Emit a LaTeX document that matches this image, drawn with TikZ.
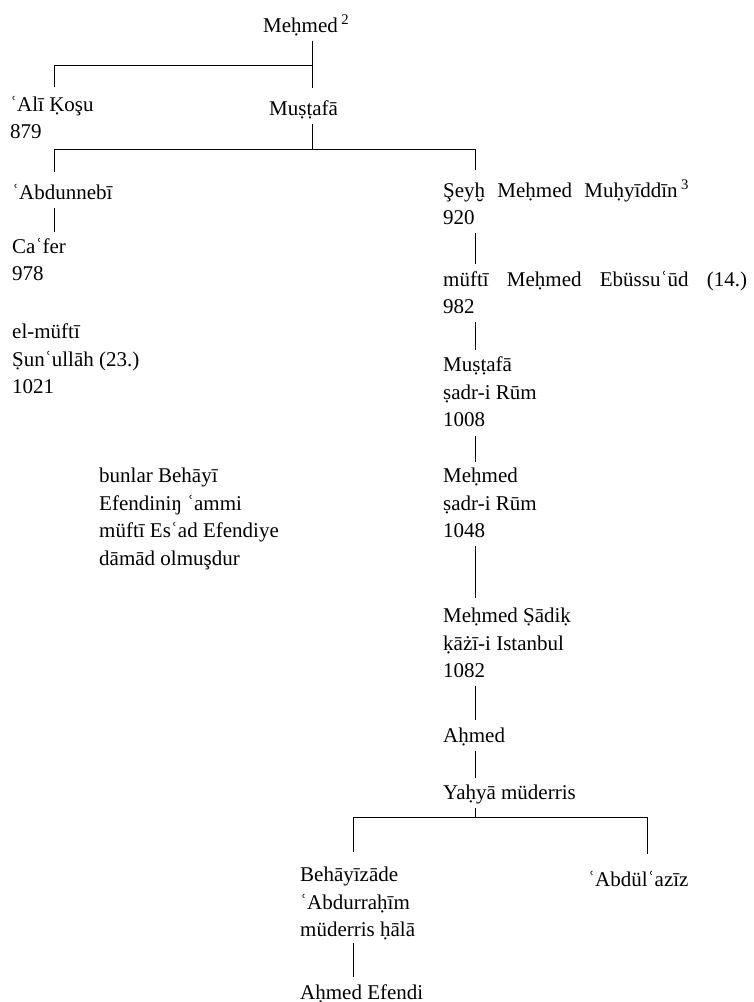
\documentclass[tikz,border=0pt]{standalone}
\usepackage{fontspec}
\setmainfont{Liberation Serif}
\begin{document}
\begin{tikzpicture}[x=1pt,y=-1pt,
  person/.style={anchor=north west, inner sep=0pt, align=left, yshift=12.4pt,
    font=\fontsize{21}{27.7}\selectfont,
    execute at begin node=\strut, execute at end node=\strut},
  link/.style={draw, line width=0.9pt, shorten >=7pt}]
\useasboundingbox (0,0) rectangle (753,1002);

% people, placed by the centre of their first line
\node[person] (mehmed)    at (263,25)  {Meḥmed\,\textsuperscript{2}};
\node[person] (ali)       at (10,108)  {ʿAlī Ḳoşu\\879};
\node[person] (mustafa)   at (269,108) {Muṣṭafā};
\node[person] (abdunnebi) at (12,192)  {ʿAbdunnebī};
\node[person] (cafer)     at (12,250)  {Caʿfer\\978};
\node[person] (sunullah)  at (12,336)  {el-müftī\\Ṣunʿullāh (23.)\\1021};
\node[person] (note)      at (99,480)  {bunlar Behāyī\\Efendiniŋ ʿammi\\müftī Esʿad Efendiye\\dāmād olmuşdur};
\node[person] (seyh)      at (443,192) {Şeyḫ\hspace{7pt} Meḥmed\hspace{7pt} Muḥyīddīn\,\textsuperscript{3}\\920};
\node[person] (ebussuud)  at (443,283) {müftī\hspace{13pt} Meḥmed\hspace{13pt} Ebüssuʿūd\hspace{13pt} (14.)\\982};
\node[person] (mustafa2)  at (443,369) {Muṣṭafā\\ṣadr-i Rūm\\1008};
\node[person] (mehmed2)   at (443,480) {Meḥmed\\ṣadr-i Rūm\\1048};
\node[person] (sadik)     at (443,620) {Meḥmed Ṣādiḳ\\ḳāżī-i Istanbul\\1082};
\node[person] (ahmed)     at (443,735) {Aḥmed};
\node[person] (yahya)     at (443,792) {Yaḥyā müderris};
\node[person] (behayi)    at (300,879) {Behāyīzāde\\ʿAbdurraḥīm\\müderris ḥālā};
\node[person] (abdulaziz) at (588,879) {ʿAbdülʿazīz};
\node[person] (ahmedef)   at (300,992) {Aḥmed Efendi};

% columns of the connectors and heights of the sibling bars
\coordinate (xA) at (312,0);
\coordinate (xL) at (54,0);
\coordinate (xR) at (475,0);
\coordinate (xB) at (353,0);
\coordinate (xZ) at (647,0);
\coordinate (bus1) at (0,65);
\coordinate (bus2) at (0,149);
\coordinate (bus3) at (0,817);

% Mehmed and his sons
\draw[link, shorten >=7.6pt] (mehmed.south -| xA) -- (mustafa.north -| xA);
\draw[link, shorten >=8.6pt] (bus1 -| xA) -| (ali.north -| xL);

% Mustafa and his sons
\draw[link, shorten >=0pt] (mustafa.south -| xA) -- (bus2 -| xA);
\draw[link, shorten <=7.6pt, shorten >=9.6pt]
  (abdunnebi.north -| xL) |- (bus2 -| xR) -- (seyh.north -| xR);
\draw[link, shorten >=5.6pt] (abdunnebi.south -| xL) -- (cafer.north -| xL);

% the line of Ebussuud
\draw[link] (seyh.south -| xR) -- (ebussuud.north -| xR);
\draw[link] (ebussuud.south -| xR) -- (mustafa2.north -| xR);
\draw[link, shorten >=6pt] (mustafa2.south -| xR) -- (mehmed2.north -| xR);
\draw[link, shorten >=9.6pt] (mehmed2.south -| xR) -- (sadik.north -| xR);
\draw[link, shorten >=2.6pt] (sadik.south -| xR) -- (ahmed.north -| xR);
\draw[link, shorten >=1.6pt] (ahmed.south -| xR) -- (yahya.north -| xR);

% Yahya and his sons
\draw[link, shorten >=0pt] (yahya.south -| xR) -- (bus3 -| xR);
\draw[link, shorten <=15pt, shorten >=13pt]
  (behayi.north -| xB) |- (bus3 -| xZ) -- (abdulaziz.north -| xZ);
\draw[link, shorten <=-2pt, shorten >=2.6pt] (behayi.south -| xB) -- (ahmedef.north -| xB);
\end{tikzpicture}
\end{document}
